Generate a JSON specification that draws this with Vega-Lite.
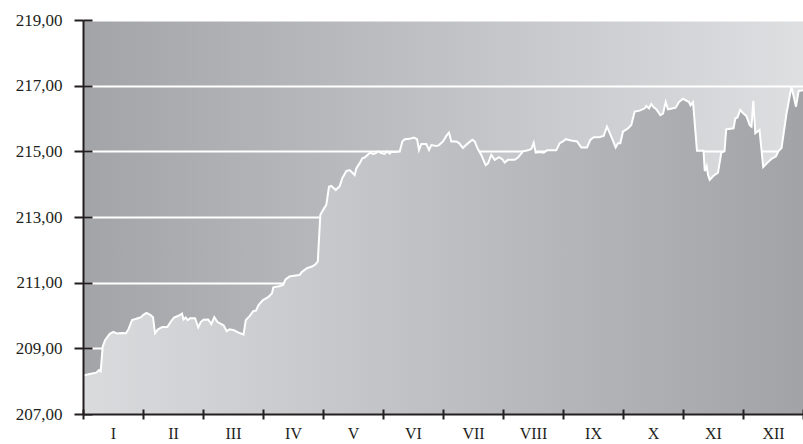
{
  "$schema": "https://vega.github.io/schema/vega-lite/v6.json",
  "autosize": {"type": "none"},
  "width": 720,
  "height": 394,
  "padding": {"left": 83, "top": 20, "right": 0, "bottom": 30},
  "background": "white",
  "config": {
    "view": {
      "stroke": null,
      "fill": {"gradient": "linear", "x1": 0, "y1": 0, "x2": 1, "y2": 0,
        "stops": [{"offset": 0, "color": "#a3a4a8"}, {"offset": 1, "color": "#dedfe1"}]}
    },
    "axis": {"labelFont": "Liberation Serif", "labelFontSize": 17, "labelColor": "#231f20", "title": null,
      "domainColor": "#231f20", "tickColor": "#231f20", "domainWidth": 2, "tickWidth": 2}
  },
  "data": {"values": [
    {"m": 0, "v": 208.17}, {"m": 0.112, "v": 208.22}, {"m": 0.222, "v": 208.26}, {"m": 0.267, "v": 208.34},
    {"m": 0.295, "v": 208.30}, {"m": 0.328, "v": 209.05}, {"m": 0.367, "v": 209.25}, {"m": 0.445, "v": 209.44},
    {"m": 0.508, "v": 209.50}, {"m": 0.567, "v": 209.45}, {"m": 0.65, "v": 209.47}, {"m": 0.717, "v": 209.46},
    {"m": 0.762, "v": 209.60}, {"m": 0.817, "v": 209.86}, {"m": 0.888, "v": 209.90}, {"m": 0.967, "v": 209.95},
    {"m": 1.005, "v": 210.02}, {"m": 1.058, "v": 210.08}, {"m": 1.122, "v": 210.02}, {"m": 1.167, "v": 209.95},
    {"m": 1.2, "v": 209.46}, {"m": 1.25, "v": 209.58}, {"m": 1.322, "v": 209.65}, {"m": 1.405, "v": 209.65},
    {"m": 1.462, "v": 209.81}, {"m": 1.517, "v": 209.94}, {"m": 1.6, "v": 210.00}, {"m": 1.65, "v": 210.06},
    {"m": 1.675, "v": 209.88}, {"m": 1.712, "v": 209.94}, {"m": 1.745, "v": 209.86}, {"m": 1.787, "v": 209.92},
    {"m": 1.867, "v": 209.92}, {"m": 1.922, "v": 209.64}, {"m": 1.962, "v": 209.80}, {"m": 2.008, "v": 209.87},
    {"m": 2.088, "v": 209.88}, {"m": 2.138, "v": 209.74}, {"m": 2.188, "v": 209.95}, {"m": 2.242, "v": 209.80},
    {"m": 2.342, "v": 209.70}, {"m": 2.397, "v": 209.52}, {"m": 2.442, "v": 209.58}, {"m": 2.517, "v": 209.55},
    {"m": 2.592, "v": 209.48}, {"m": 2.675, "v": 209.42}, {"m": 2.713, "v": 209.86}, {"m": 2.78, "v": 209.99},
    {"m": 2.837, "v": 210.13}, {"m": 2.883, "v": 210.15}, {"m": 2.925, "v": 210.32}, {"m": 3.0, "v": 210.47},
    {"m": 3.087, "v": 210.56}, {"m": 3.15, "v": 210.68}, {"m": 3.172, "v": 210.86}, {"m": 3.267, "v": 210.89},
    {"m": 3.338, "v": 210.94}, {"m": 3.375, "v": 211.10}, {"m": 3.442, "v": 211.19}, {"m": 3.517, "v": 211.21},
    {"m": 3.608, "v": 211.23}, {"m": 3.65, "v": 211.33}, {"m": 3.733, "v": 211.44}, {"m": 3.825, "v": 211.50},
    {"m": 3.875, "v": 211.56}, {"m": 3.913, "v": 211.64}, {"m": 3.955, "v": 213.06}, {"m": 4.0, "v": 213.21},
    {"m": 4.055, "v": 213.37}, {"m": 4.1, "v": 213.92}, {"m": 4.138, "v": 213.95}, {"m": 4.212, "v": 213.82},
    {"m": 4.278, "v": 213.94}, {"m": 4.322, "v": 214.18}, {"m": 4.388, "v": 214.40}, {"m": 4.445, "v": 214.43},
    {"m": 4.528, "v": 214.28}, {"m": 4.555, "v": 214.48}, {"m": 4.612, "v": 214.64}, {"m": 4.655, "v": 214.79},
    {"m": 4.695, "v": 214.81}, {"m": 4.75, "v": 214.90}, {"m": 4.788, "v": 214.96}, {"m": 4.833, "v": 214.92},
    {"m": 4.878, "v": 214.94}, {"m": 4.917, "v": 215.00}, {"m": 4.972, "v": 214.95}, {"m": 5.028, "v": 214.92},
    {"m": 5.067, "v": 215.00}, {"m": 5.112, "v": 214.93}, {"m": 5.138, "v": 214.98}, {"m": 5.2, "v": 214.98},
    {"m": 5.278, "v": 214.99}, {"m": 5.322, "v": 215.30}, {"m": 5.362, "v": 215.37}, {"m": 5.445, "v": 215.38},
    {"m": 5.512, "v": 215.42}, {"m": 5.567, "v": 215.37}, {"m": 5.6, "v": 215.04}, {"m": 5.638, "v": 215.22},
    {"m": 5.722, "v": 215.22}, {"m": 5.767, "v": 215.04}, {"m": 5.805, "v": 215.19}, {"m": 5.888, "v": 215.16},
    {"m": 5.933, "v": 215.19}, {"m": 6.0, "v": 215.30}, {"m": 6.055, "v": 215.47}, {"m": 6.1, "v": 215.57},
    {"m": 6.138, "v": 215.30}, {"m": 6.222, "v": 215.30}, {"m": 6.267, "v": 215.25}, {"m": 6.333, "v": 215.10},
    {"m": 6.4, "v": 215.22}, {"m": 6.488, "v": 215.35}, {"m": 6.528, "v": 215.30}, {"m": 6.583, "v": 215.06},
    {"m": 6.638, "v": 214.89}, {"m": 6.712, "v": 214.58}, {"m": 6.75, "v": 214.63}, {"m": 6.805, "v": 214.89},
    {"m": 6.862, "v": 214.74}, {"m": 6.933, "v": 214.82}, {"m": 6.988, "v": 214.76}, {"m": 7.028, "v": 214.66},
    {"m": 7.083, "v": 214.74}, {"m": 7.195, "v": 214.74}, {"m": 7.25, "v": 214.81}, {"m": 7.333, "v": 215.00},
    {"m": 7.417, "v": 215.03}, {"m": 7.472, "v": 215.07}, {"m": 7.512, "v": 215.26}, {"m": 7.545, "v": 214.96},
    {"m": 7.612, "v": 214.98}, {"m": 7.678, "v": 214.96}, {"m": 7.733, "v": 215.03}, {"m": 7.888, "v": 215.03},
    {"m": 7.945, "v": 215.25}, {"m": 8.0, "v": 215.30}, {"m": 8.045, "v": 215.37}, {"m": 8.138, "v": 215.33},
    {"m": 8.233, "v": 215.30}, {"m": 8.305, "v": 215.12}, {"m": 8.4, "v": 215.12}, {"m": 8.455, "v": 215.35},
    {"m": 8.512, "v": 215.43}, {"m": 8.6, "v": 215.43}, {"m": 8.678, "v": 215.47}, {"m": 8.733, "v": 215.75},
    {"m": 8.805, "v": 215.45}, {"m": 8.878, "v": 215.12}, {"m": 8.917, "v": 215.25}, {"m": 8.955, "v": 215.25},
    {"m": 9.0, "v": 215.60}, {"m": 9.083, "v": 215.70}, {"m": 9.138, "v": 215.80}, {"m": 9.195, "v": 216.21},
    {"m": 9.278, "v": 216.24}, {"m": 9.362, "v": 216.31}, {"m": 9.388, "v": 216.38}, {"m": 9.433, "v": 216.31},
    {"m": 9.472, "v": 216.44}, {"m": 9.512, "v": 216.34}, {"m": 9.555, "v": 216.28}, {"m": 9.622, "v": 216.10},
    {"m": 9.667, "v": 216.15}, {"m": 9.712, "v": 216.50}, {"m": 9.75, "v": 216.28}, {"m": 9.833, "v": 216.31},
    {"m": 9.878, "v": 216.33}, {"m": 9.933, "v": 216.50}, {"m": 10.0, "v": 216.60}, {"m": 10.1, "v": 216.50},
    {"m": 10.125, "v": 216.40}, {"m": 10.167, "v": 216.50}, {"m": 10.233, "v": 215.02}, {"m": 10.342, "v": 215.02},
    {"m": 10.363, "v": 214.40}, {"m": 10.395, "v": 214.55}, {"m": 10.417, "v": 214.28}, {"m": 10.445, "v": 214.13},
    {"m": 10.505, "v": 214.25}, {"m": 10.583, "v": 214.35}, {"m": 10.638, "v": 214.96}, {"m": 10.692, "v": 215.00},
    {"m": 10.72, "v": 215.67}, {"m": 10.842, "v": 215.70}, {"m": 10.872, "v": 216.00}, {"m": 10.908, "v": 216.03},
    {"m": 10.953, "v": 216.26}, {"m": 11.003, "v": 216.16}, {"m": 11.055, "v": 216.08}, {"m": 11.112, "v": 215.80},
    {"m": 11.142, "v": 215.75}, {"m": 11.172, "v": 216.54}, {"m": 11.205, "v": 215.55}, {"m": 11.275, "v": 215.65},
    {"m": 11.337, "v": 214.52}, {"m": 11.4, "v": 214.64}, {"m": 11.467, "v": 214.76}, {"m": 11.55, "v": 214.85},
    {"m": 11.588, "v": 215.00}, {"m": 11.642, "v": 215.10}, {"m": 11.725, "v": 216.15}, {"m": 11.808, "v": 216.97},
    {"m": 11.883, "v": 216.36}, {"m": 11.928, "v": 216.84}, {"m": 12.0, "v": 216.86}
  ]},
  "resolve": {"axis": {"x": "independent", "y": "independent"}},
  "layer": [
    {
      "mark": {"type": "area", "clip": true,
        "fill": {"gradient": "linear", "x1": 0, "y1": 0, "x2": 1, "y2": 0,
          "stops": [{"offset": 0, "color": "#dadbdd"}, {"offset": 1, "color": "#a2a3a7"}]}},
      "encoding": {
        "x": {"field": "m", "type": "quantitative",
          "scale": {"domain": [0, 12], "nice": false, "zero": false},
          "axis": {"orient": "bottom", "values": [0,1,2,3,4,5,6,7,8,9,10,11,12], "grid": false,
            "tickSize": 5, "labelPadding": 6, "labelFontSize": 16, "labelOffset": 30, "labelFlush": false, "labelOverlap": false, "labelBound": false,
            "labelExpr": "['I','II','III','IV','V','VI','VII','VIII','IX','X','XI','XII',''][datum.value]",
            "zindex": 1}},
        "y": {"field": "v", "type": "quantitative",
          "scale": {"domain": [207, 219], "nice": false, "zero": false},
          "axis": {"orient": "left", "values": [207,209,211,213,215,217,219], "grid": false,
            "tickSize": 9, "labelPadding": 12,
            "labelExpr": "replace(format(datum.value, '.2f'), '.', ',')",
            "zindex": 1}}
      }
    },
    {
      "mark": {"type": "line", "clip": true, "color": "white", "strokeWidth": 2},
      "encoding": {
        "x": {"field": "m", "type": "quantitative",
          "axis": {"orient": "bottom", "values": [0,1,2,3,4,5,6,7,8,9,10,11,12], "grid": false, "domain": false,
            "labels": false, "tickSize": -5, "zindex": 1}},
        "y": {"field": "v", "type": "quantitative",
          "axis": {"orient": "left", "values": [207,209,211,213,215,217,219], "domain": false, "labels": false,
            "tickSize": -9, "grid": true, "gridColor": "white", "gridWidth": 2, "gridOpacity": 1,
            "zindex": 0}}
      }
    }
  ]
}
